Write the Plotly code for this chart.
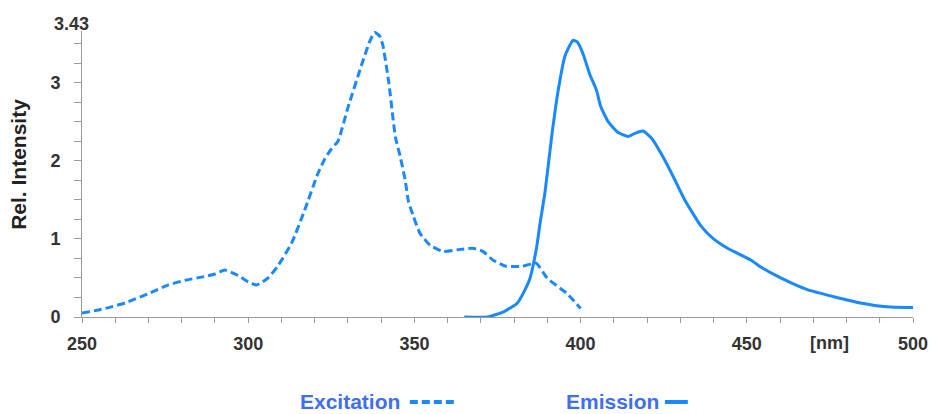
import plotly.graph_objects as go

# Excitation spectrum (nm, relative intensity)
exc_nm = [250, 255, 258, 263, 270, 276, 281, 286, 290, 293, 297, 300, 302.5, 306, 309, 313, 317,
          321, 323, 325, 327, 330, 334, 336.5, 338, 339.5, 340.5, 342.3, 344.3, 345.7, 347.2,
          348.2, 349.7, 351.7, 354.7, 358.6, 363, 367.5, 370.6, 373.6, 377.6, 382.6, 386.6,
          389.9, 395.9, 400]
exc_val = [0.05, 0.09, 0.12, 0.18, 0.30, 0.41, 0.47, 0.51, 0.55, 0.60, 0.53, 0.45, 0.41, 0.50,
           0.66, 0.94, 1.37, 1.84, 2.02, 2.15, 2.25, 2.68, 3.21, 3.52, 3.64, 3.60, 3.48, 3.00,
           2.30, 2.06, 1.76, 1.48, 1.29, 1.07, 0.92, 0.84, 0.86, 0.88, 0.84, 0.73, 0.65, 0.65,
           0.69, 0.50, 0.30, 0.11]

# Emission spectrum
emi_nm = [365, 372, 377, 381, 383.3, 384.8, 386.8, 387.8, 389.3, 391.3, 393.3, 395.3, 397.7,
          399, 400.8, 402.8, 404.8, 406, 408.3, 411.3, 414.3, 416.3, 418.8, 421.3, 425.3,
          428.3, 431.3, 436.3, 440, 444.2, 451.2, 454.2, 460.2, 468.2, 476.2, 484.2, 492.2, 500]
emi_val = [0.0, 0.0, 0.07, 0.18, 0.35, 0.50, 0.90, 1.20, 1.60, 2.31, 2.91, 3.34, 3.54, 3.52,
           3.36, 3.10, 2.90, 2.70, 2.50, 2.36, 2.31, 2.35, 2.38, 2.29, 2.01, 1.76, 1.50, 1.16,
           1.00, 0.88, 0.73, 0.64, 0.50, 0.35, 0.26, 0.18, 0.13, 0.12]

x_tickvals = list(range(250, 501, 10))
x_ticktext = [str(v) if v % 50 == 0 else "" for v in x_tickvals]
y_tickvals = [i * 0.25 for i in range(15)]
y_ticktext = [str(int(v)) if v == int(v) else "" for v in y_tickvals]
y_top_label = "3.43"
unit_label = "[nm]"
unit_pos = 475

LINE = "#1a88ff"
TXT = "#3f6ff0"
FONT = "Liberation Sans"

fig = go.Figure()
fig.add_trace(go.Scatter(x=exc_nm, y=exc_val, mode="lines", name="Excitation",
                         line=dict(color=LINE, width=3, dash="8px,4px", shape="spline", smoothing=0.5)))
fig.add_trace(go.Scatter(x=emi_nm, y=emi_val, mode="lines", name="Emission",
                         line=dict(color=LINE, width=3, shape="spline", smoothing=0.5)))

tickfont = dict(family=FONT, size=18, color="#333333", weight="bold")
axis_common = dict(showgrid=False, zeroline=False, showline=True, linecolor="#9a9a9a", linewidth=1,
                   ticks="outside", tickcolor="#9a9a9a", tickwidth=1, tickfont=tickfont)

fig.update_xaxes(range=[250, 500], tickvals=x_tickvals, ticktext=x_ticktext, ticklen=5,
                 ticklabelstandoff=5, **axis_common)
fig.update_yaxes(range=[0, 3.66], tickvals=y_tickvals, ticktext=y_ticktext, ticklen=7,
                 ticklabelstandoff=10, **axis_common)

fig.add_annotation(x=0, y=1, xref="paper", yref="paper", text=y_top_label, showarrow=False,
                   xanchor="right", yanchor="bottom", xshift=9, yshift=-5, font=tickfont)
fig.add_annotation(x=unit_pos, y=0, xref="x", yref="paper", text=unit_label, showarrow=False,
                   xanchor="center", yanchor="top", yshift=-14, font=tickfont)
fig.add_annotation(x=-0.076, y=0.535, xref="paper", yref="paper", text="<b>Rel. Intensity</b>",
                   showarrow=False, textangle=-90, xanchor="center", yanchor="middle",
                   font=dict(family=FONT, size=21, color="#222222"))

# legend (positions relative to the plot area)
leg_y = -(401 - 317) / 286
fig.add_annotation(x=(403 - 82) / 834, y=leg_y, xref="paper", yref="paper",
                   text="<b>Excitation</b>", showarrow=False, xanchor="right", yanchor="middle",
                   font=dict(family=FONT, size=21, color=TXT))
fig.add_annotation(x=(663 - 82) / 834, y=leg_y, xref="paper", yref="paper",
                   text="<b>Emission</b>", showarrow=False, xanchor="right", yanchor="middle",
                   font=dict(family=FONT, size=21, color=TXT))
fig.add_shape(type="line", xref="paper", yref="paper",
              x0=(411 - 82) / 834, x1=(456 - 82) / 834, y0=leg_y - 1 / 286, y1=leg_y - 1 / 286,
              line=dict(color=LINE, width=4, dash="8px,4px"))
fig.add_shape(type="line", xref="paper", yref="paper",
              x0=(667 - 82) / 834, x1=(690 - 82) / 834, y0=leg_y - 1 / 286, y1=leg_y - 1 / 286,
              line=dict(color=LINE, width=4))

# page body adds an 8px offset; compensate so the plot lands where the reference has it
fig.update_layout(width=932, height=406, margin=dict(l=74, r=24, t=23, b=97),
                  paper_bgcolor="white", plot_bgcolor="white", showlegend=False)

fig.write_html("out.html")
